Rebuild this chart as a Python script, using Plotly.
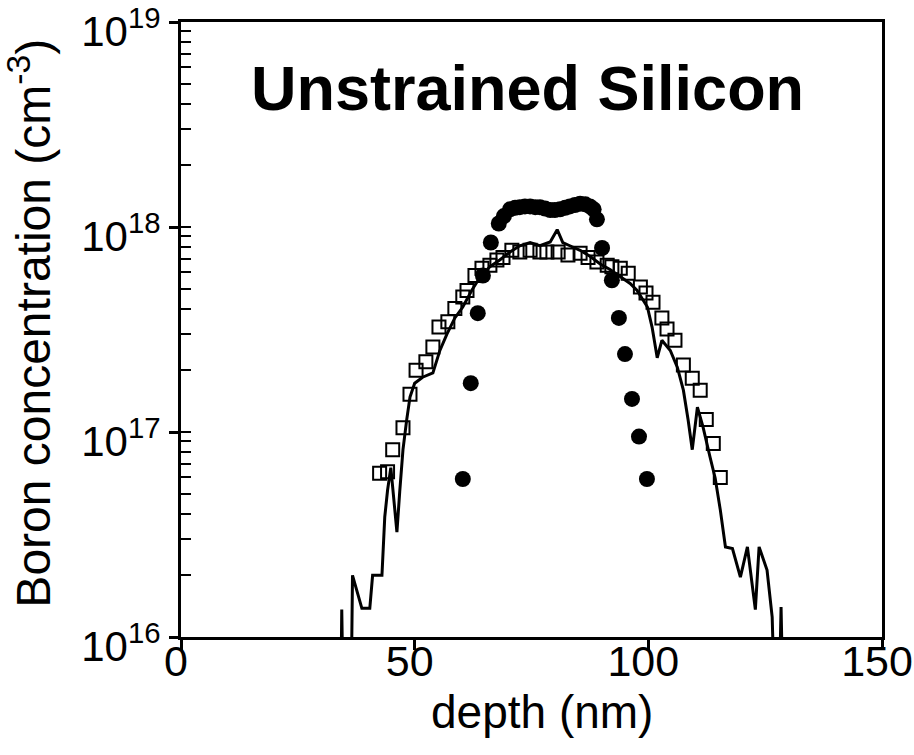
import plotly.graph_objects as go

# ---------------- data ----------------
# SIMS profile (solid line); 5e15 = below the axis floor
line_depth = [33.6, 34.2, 34.4, 34.7, 36.4, 36.7, 38.7, 40.4, 41.0, 43.0, 43.6, 44.2, 44.9, 45.5,
              46.2, 46.8, 47.5, 48.3, 49.0, 50.0, 51.7, 53.9, 55.4, 56.9, 58.6, 60.3, 62.2,
              64.0, 66.1, 68.2, 70.4, 72.5, 74.7, 76.8, 79.0, 80.5, 81.7, 83.2, 85.4, 87.5,
              89.7, 91.8, 94.0, 96.1, 97.6, 99.8, 100.8, 101.9, 102.9, 104.7, 106.2, 107.5,
              108.5, 109.4, 110.5, 111.7, 113.2, 114.3, 115.4, 116.5, 118.0, 119.7, 121.2,
              122.9, 123.7, 125.4, 126.5, 127.0, 128.0, 128.4, 128.8, 129.3]
line_conc = [5e15, 5e15, 1.36e16, 5e15, 5e15, 2.0e16, 1.38e16, 1.38e16, 2.0e16, 2.0e16, 3.85e16,
             5.2e16, 6.7e16, 4.65e16, 3.25e16, 5.1e16, 8.2e16, 1.15e17, 1.48e17, 1.73e17,
             1.85e17, 1.94e17, 2.5e17, 3.0e17, 3.6e17, 4.07e17, 4.9e17, 5.7e17, 6.4e17,
             6.9e17, 7.55e17, 8.1e17, 8.4e17, 8.1e17, 8.45e17, 9.7e17, 8.4e17, 8.1e17,
             7.7e17, 7.2e17, 6.6e17, 6.2e17, 5.7e17, 5.3e17, 4.9e17, 4.07e17, 3.25e17,
             2.3e17, 2.8e17, 2.5e17, 2.07e17, 1.6e17, 1.15e17, 8.2e16, 1.32e17, 1.06e17,
             7.55e16, 5.97e16, 4.17e16, 2.75e16, 2.7e16, 1.96e16, 2.75e16, 1.36e16, 2.75e16,
             2.12e16, 1.25e16, 5e15, 5e15, 1.4e16, 5e15, 5e15]

# open squares
sq_depth = [42.5, 44.2, 45.3, 47.5, 49.0, 50.3, 52.4, 53.9, 55.2, 57.1, 58.6, 60.3, 61.2, 62.9,
            64.4, 66.1, 67.6, 68.9, 70.8, 72.5, 74.7, 76.8, 78.3, 80.7, 82.8, 85.4, 87.1,
            89.0, 91.2, 92.2, 94.0, 95.7, 98.3, 99.5, 101.0, 102.9, 104.0, 105.7, 107.5,
            109.4, 111.1, 112.4, 113.9, 115.4]
sq_conc = [6.3e16, 6.4e16, 8.2e16, 1.05e17, 1.53e17, 2.0e17, 2.2e17, 2.6e17, 3.25e17, 3.45e17,
           4.0e17, 4.55e17, 4.9e17, 5.8e17, 6.3e17, 6.5e17, 6.9e17, 7.1e17, 7.7e17, 7.55e17,
           7.7e17, 7.55e17, 7.55e17, 7.55e17, 7.3e17, 7.45e17, 7.1e17, 6.75e17, 6.5e17,
           6.4e17, 6.3e17, 5.95e17, 5.1e17, 4.76e17, 4.3e17, 3.6e17, 3.18e17, 2.8e17,
           2.12e17, 1.83e17, 1.6e17, 1.15e17, 8.8e16, 6.0e16]

# filled circles
circ_depth = [60.3, 62.0, 63.5, 64.6, 66.3, 68.0, 69.1, 70.4, 71.5, 72.5, 73.6, 74.7, 75.8,
              76.8, 77.9, 79.0, 80.0, 81.1, 82.2, 83.2, 84.3, 85.4, 86.5, 87.5, 88.3, 89.0,
              90.1, 92.2, 93.7, 95.0, 96.5, 98.0, 99.7]
circ_conc = [5.9e16, 1.73e17, 3.8e17, 5.8e17, 8.4e17, 1.04e18, 1.13e18, 1.22e18, 1.24e18,
             1.25e18, 1.26e18, 1.26e18, 1.25e18, 1.25e18, 1.23e18, 1.21e18, 1.21e18, 1.22e18,
             1.24e18, 1.26e18, 1.28e18, 1.30e18, 1.29e18, 1.26e18, 1.22e18, 1.09e18, 7.9e17,
             5.5e17, 3.6e17, 2.4e17, 1.45e17, 9.5e16, 5.9e16]

x_ticks = [0, 50, 100, 150]
x_tick_text = ["0", "50", "100", "150"]
y_ticks = [1e16, 1e17, 1e18, 1e19]
y_tick_text = ["10<sup>16</sup>", "10<sup>17</sup>", "10<sup>18</sup>", "10<sup>19</sup>"]
y_inside_ticks = [m * 10 ** e for e in (16, 17, 18) for m in range(1, 10)] + [1e19]

title_text = "<b>Unstrained Silicon</b>"
x_title = "depth (nm)"
y_title = "Boron concentration (cm<sup>-3</sup>)"

FONT = "Arial, Liberation Sans, sans-serif"

fig = go.Figure()
fig.add_trace(go.Scatter(x=line_depth, y=line_conc, mode="lines",
                         line=dict(color="black", width=3), showlegend=False))
fig.add_trace(go.Scatter(x=circ_depth, y=circ_conc, mode="markers",
                         marker=dict(symbol="circle", size=16, color="black"),
                         showlegend=False))
fig.add_trace(go.Scatter(x=sq_depth, y=sq_conc, mode="markers",
                         marker=dict(symbol="square-open", size=13, color="black",
                                     line=dict(width=2, color="black")),
                         showlegend=False))
# invisible trace to carry the inside-tick overlay axis
fig.add_trace(go.Scatter(x=[None], y=[None], yaxis="y2", showlegend=False,
                         hoverinfo="skip"))

fig.update_layout(
    width=914, height=755,
    margin=dict(l=181, r=32, t=22, b=118, autoexpand=False),
    paper_bgcolor="white", plot_bgcolor="white",
    font=dict(family=FONT, color="black"),
    xaxis=dict(range=[0, 150], tickvals=x_ticks, ticktext=x_tick_text, ticks="outside",
               ticklen=10, tickwidth=3, tickcolor="black", showline=True, linewidth=3,
               linecolor="black", mirror=True, showgrid=False, zeroline=False,
               automargin=False, ticklabeloverflow="allow", ticklabelstandoff=-26,
               ticklabelshift=-5, tickfont=dict(size=43, family=FONT)),
    yaxis=dict(type="log", range=[16, 19], tickvals=y_ticks, ticktext=y_tick_text,
               ticks="outside", ticklen=9, tickwidth=3, tickcolor="black",
               showline=True, linewidth=3, linecolor="black", mirror=True,
               automargin=False, ticklabeloverflow="allow", ticklabelshift=9,
               showgrid=False, zeroline=False, tickfont=dict(size=42, family=FONT)),
    yaxis2=dict(type="log", range=[16, 19], overlaying="y", side="left",
                tickvals=y_inside_ticks, ticks="inside", ticklen=10, tickwidth=2,
                tickcolor="black", showticklabels=False, showline=False,
                automargin=False, showgrid=False, zeroline=False),
    annotations=[
        dict(text=title_text, x=0.495, y=0.893, xref="paper", yref="paper",
             xanchor="center", yanchor="middle", showarrow=False,
             font=dict(size=63, family=FONT, color="black")),
        dict(text=x_title, x=0.515, y=-0.122, xref="paper", yref="paper",
             xanchor="center", yanchor="middle", showarrow=False,
             font=dict(size=46, family=FONT, color="black")),
        dict(text=y_title, x=-0.215, y=0.51, xref="paper", yref="paper",
             xanchor="center", yanchor="middle", showarrow=False, textangle=-90,
             font=dict(size=48, family=FONT, color="black")),
    ],
)

fig.write_html("out.html")
